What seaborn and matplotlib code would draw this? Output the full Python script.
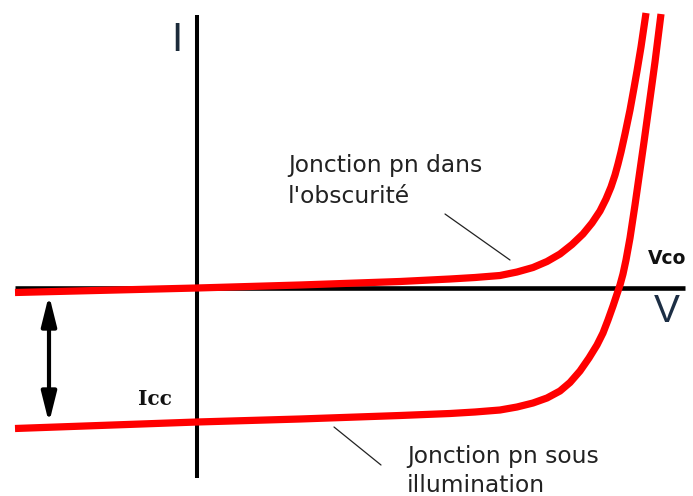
import matplotlib
matplotlib.use("Agg")
import matplotlib.pyplot as plt
from matplotlib.patches import FancyArrowPatch
import seaborn as sns
import pandas as pd

# I-V characteristic of a pn junction (arbitrary units, origin at V=0, I=0)
v_dark = [-182, 0, 103, 203, 253, 278, 303, 320, 336, 350, 363, 375, 386, 395, 403, 409,
          414, 418, 421, 424, 428, 433, 437, 440, 444, 449]
i_dark = [-4.5, 0, 3, 6.5, 9, 10.5, 12.5, 16, 20.5, 26.5, 34, 43.5, 54, 65, 77, 89,
          101, 113, 124, 136, 154, 178, 200, 217, 241, 275]

v_light = [-182, 0, 103, 203, 253, 278, 303, 320, 336, 350, 363, 373, 383, 392, 400, 406,
           411, 416, 420, 423, 426, 429, 433, 438, 443, 447, 451, 455, 458, 461, 464]
i_light = [-140.5, -134, -131, -127.5, -125.5, -124, -122, -119, -115, -110, -103, -94.5, -83,
           -70, -57, -45, -32, -18, -6, 3, 14, 28, 50, 83, 118, 146, 175, 204, 226, 250, 274]

i_cc = -134   # short-circuit current (curve under illumination at V = 0)

label_dark = ["Jonction pn dans", "l'obscurité"]
label_light = ["Jonction pn sous", "illumination"]

dark = pd.DataFrame({"V": v_dark, "I": i_dark})
light = pd.DataFrame({"V": v_light, "I": i_light})

sns.set_style("white")
plt.rcParams["font.family"] = ["DejaVu Sans"]

fig = plt.figure(figsize=(6.93, 4.96), dpi=100)
ax = fig.add_axes([0, 0, 1, 1])
ax.set_xlim(-197, 496)
ax.set_ylim(-208, 288)
ax.axis("off")

# coordinate axes
ax.plot([-182, 488], [0, 0], color="black", lw=3.3, solid_capstyle="butt", zorder=2)
ax.plot([0, 0], [273, -190], color="black", lw=2.9, solid_capstyle="butt", zorder=2)

# characteristic curves
for df in (dark, light):
    sns.lineplot(data=df, x="V", y="I", sort=False, estimator=None, color="#ff0000",
                 lw=5.2, ax=ax, zorder=3)
for line in ax.lines[-2:]:
    line.set_solid_capstyle("butt")
    line.set_solid_joinstyle("round")

# double arrow showing Icc
arrow = FancyArrowPatch((-148, -7), (-148, i_cc - 1),
                        arrowstyle="<|-|>,head_length=1.8,head_width=0.45",
                        mutation_scale=10, color="black", lw=3.0,
                        shrinkA=0, shrinkB=0, zorder=4)
ax.add_patch(arrow)

# axis names
ax.text(-26, 248, "I", fontsize=29, family="Liberation Sans", color="#1c2b3a",
        ha="left", va="center")
ax.text(457, -24, "V", fontsize=28, family="Liberation Sans", color="#1c2e44",
        ha="left", va="center")

# Vco and Icc labels
ax.text(451, 30, "Vco", fontsize=13.5, fontweight="bold", family="DejaVu Sans",
        color="#111111", ha="left", va="center")
ax.text(-59, -111, "Icc", fontsize=14.5, fontweight="bold", family="DejaVu Serif",
        color="#111111", ha="left", va="center")

# curve descriptions with leader lines
ax.text(91, 288 - 172, label_dark[0], fontsize=16.8, color="#222222", ha="left", va="baseline")
ax.text(91, 288 - 203, label_dark[1], fontsize=16.8, color="#222222", ha="left", va="baseline")
ax.plot([248, 313], [288 - 214, 288 - 260], color="#222222", lw=0.9, zorder=2)

ax.text(210, 288 - 463, label_light[0], fontsize=16.8, color="#222222", ha="left", va="baseline")
ax.text(210, 288 - 492, label_light[1], fontsize=16.8, color="#222222", ha="left", va="baseline")
ax.plot([137, 184], [288 - 427, 288 - 465], color="#222222", lw=0.9, zorder=2)

fig.savefig("out.png", dpi=100, facecolor="white")
